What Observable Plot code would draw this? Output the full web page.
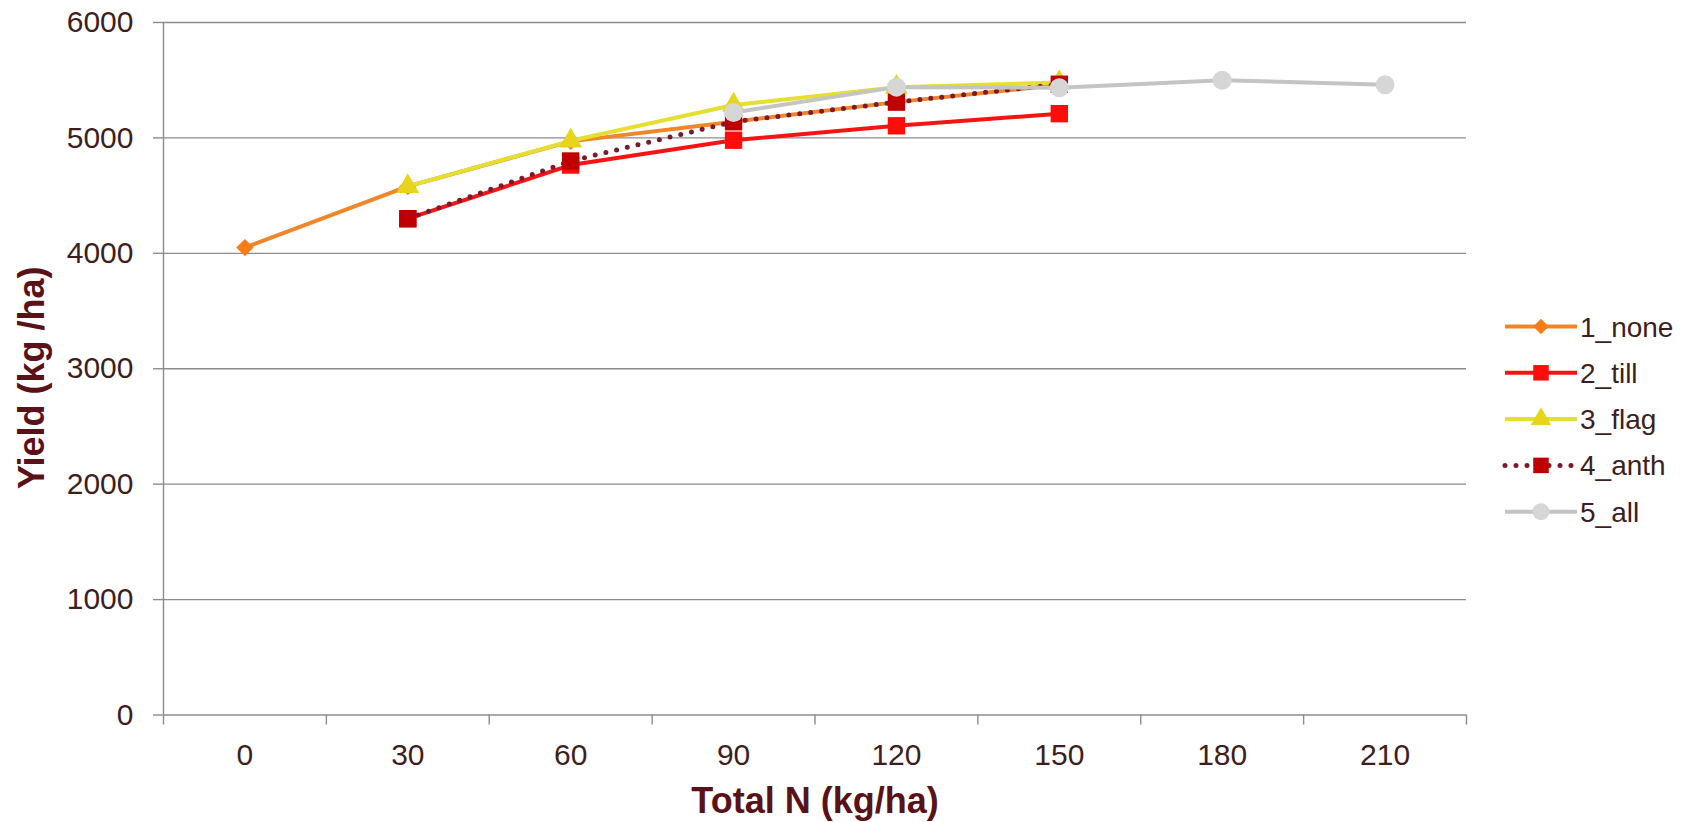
<!DOCTYPE html>
<html>
<head>
<meta charset="utf-8">
<script src="https://cdn.jsdelivr.net/npm/d3@7"></script>
<script src="https://cdn.jsdelivr.net/npm/@observablehq/plot@0.6"></script>
<style>
  html, body { margin: 0; padding: 0; background: #ffffff; }
  #wrap { position: relative; width: 1700px; height: 822px; font-family: "Liberation Sans", Arial, sans-serif; }
  #legend { position: absolute; left: 0; top: 0; }
</style>
</head>
<body>
<div id="wrap"></div>
<script>
// ---- data ----
const nLevels = [0, 30, 60, 90, 120, 150, 180, 210];           // Total N (kg/ha) categories
const seriesNames = ["1_none", "2_till", "3_flag", "4_anth", "5_all"];
const yieldNone = [4050, 4580, 4970, 5140, 5310, 5460, null, null];
const yieldTill = [null, 4300, 4765, 4980, 5105, 5210, null, null];
const yieldFlag = [null, 4580, 4975, 5285, 5440, 5480, null, null];
const yieldAnth = [null, 4300, 4800, 5140, 5310, 5465, null, null];
const yieldAll  = [null, null, null, 5220, 5440, 5435, 5500, 5460];
const yTicks = [0, 1000, 2000, 3000, 4000, 5000, 6000];
const xTickLabels = [0, 30, 60, 90, 120, 150, 180, 210];
const xBoundaries = [-15, 15, 45, 75, 105, 135, 165, 195, 225];
const xTitle = "Total N (kg/ha)";
const yTitle = "Yield (kg /ha)";

// ---- styles ----
const gridColor = "#8c8c8c";
const tickText = "#3e1e1e";
const titleColor = "#5a1218";
const styles = {
  "1_none": {stroke: "#f0862a", fill: "#f57c16", symbol: "diamond2", r: 7.8, width: 4},
  "2_till": {stroke: "#f51414", fill: "#ff0d0d", symbol: "square", r: 9.8, width: 4},
  "3_flag": {stroke: "#e4df30", fill: "#e8d41a", symbol: "triangle", r: 8.5, width: 4},
  "4_anth": {stroke: "#7a1a2a", fill: "#c00000", symbol: "square", r: 9.8, width: 5, dash: "0 11", cap: "round"},
  "5_all":  {stroke: "#c4c4c4", fill: "#d6d6d6", symbol: "circle", r: 9.5, width: 4}
};
const seriesValues = {"1_none": yieldNone, "2_till": yieldTill, "3_flag": yieldFlag, "4_anth": yieldAnth, "5_all": yieldAll};

function rows(name) {
  return seriesValues[name]
    .map((v, i) => ({series: name, n: nLevels[i], y: v}))
    .filter(d => d.y != null);
}

const seriesMarks = [];
for (const name of seriesNames) {
  const s = styles[name];
  const data = rows(name);
  seriesMarks.push(Plot.line(data, {
    x: "n", y: "y", stroke: s.stroke, strokeWidth: s.width,
    strokeDasharray: s.dash, strokeLinecap: s.cap || "butt", strokeLinejoin: "round"
  }));
  seriesMarks.push(Plot.dot(data, {x: "n", y: "y", symbol: s.symbol, r: s.r, fill: s.fill, stroke: "none"}));
}

const chart = Plot.plot({
  width: 1700,
  height: 822,
  marginLeft: 163,
  marginRight: 234,
  marginTop: 22,
  marginBottom: 107.5,
  style: {fontFamily: "'Liberation Sans', Arial, sans-serif", background: "#ffffff", overflow: "visible"},
  x: {type: "linear", domain: [-15, 225]},
  y: {domain: [0, 6000]},
  marks: [
    Plot.gridY(yTicks, {stroke: gridColor, strokeOpacity: 1, strokeWidth: 1.4}),
    Plot.ruleX([-15], {stroke: gridColor, strokeWidth: 1.4}),
    Plot.axisY(yTicks, {tickSize: 10, tickPadding: 20, fontSize: 30, stroke: gridColor, strokeWidth: 1.4, color: tickText, label: null, tickFormat: d => String(d)}),
    Plot.axisX(xBoundaries, {tickSize: 10, stroke: gridColor, strokeWidth: 1.4, tickFormat: () => "", label: null}),
    Plot.axisX(xTickLabels, {tickSize: 0, tickPadding: 29, fontSize: 30, color: tickText, label: null, tickFormat: d => String(d)}),
    Plot.text([xTitle], {frameAnchor: "bottom", lineAnchor: "bottom", dy: 98, fontSize: 36, fontWeight: "bold", fill: titleColor}),
    Plot.text([yTitle], {frameAnchor: "left", textAnchor: "middle", rotate: -90, dx: -131, dy: 9, fontSize: 36, fontWeight: "bold", fill: titleColor}),
    ...seriesMarks
  ]
});

const wrap = document.getElementById("wrap");
wrap.appendChild(chart);

// ---- legend (right side) ----
const legend = d3.create("svg")
  .attr("id", "legend")
  .attr("width", 1700).attr("height", 822)
  .style("pointer-events", "none");
const symbolTypes = {diamond2: d3.symbolDiamond2, square: d3.symbolSquare, triangle: d3.symbolTriangle, circle: d3.symbolCircle};
seriesNames.forEach((name, i) => {
  const s = styles[name];
  const cy = 326.5 + i * 46.3;
  const g = legend.append("g");
  g.append("line")
    .attr("x1", 1505).attr("x2", 1577).attr("y1", cy).attr("y2", cy)
    .attr("stroke", s.stroke).attr("stroke-width", s.width)
    .attr("stroke-dasharray", s.dash || null)
    .attr("stroke-linecap", s.cap || "butt");
  g.append("path")
    .attr("transform", `translate(1541,${cy})`)
    .attr("d", d3.symbol(symbolTypes[s.symbol], Math.PI * s.r * s.r * 0.8)())
    .attr("fill", s.fill);
  g.append("text")
    .attr("x", 1580).attr("y", cy).attr("dy", "0.36em")
    .attr("font-size", 28)
    .attr("font-family", "'Liberation Sans', Arial, sans-serif")
    .attr("fill", tickText)
    .text(name);
});
wrap.appendChild(legend.node());
</script>
</body>
</html>
